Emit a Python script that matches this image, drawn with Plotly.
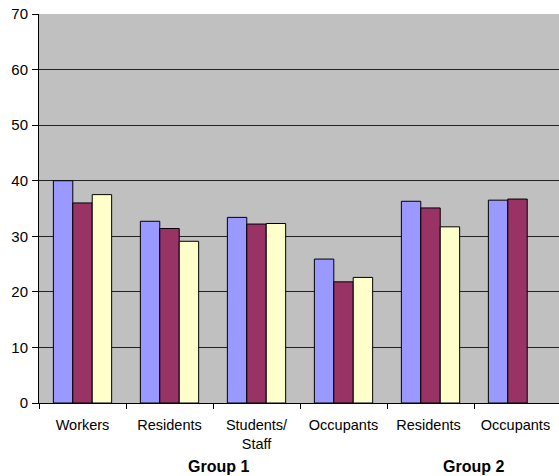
import plotly.graph_objects as go

categories = ["Workers", "Residents", "Students/<br>Staff", "Occupants", "Residents ", "Occupants "]
series_a = [40.0, 32.7, 33.4, 25.9, 36.3, 36.5]
series_b = [36.0, 31.4, 32.2, 21.8, 35.1, 36.7]
series_c = [37.5, 29.1, 32.3, 22.6, 31.7, None]
group_labels = ["Group 1", "Group 2"]
group_centers = [1.56, 4.49]

colors = ["#9999FF", "#993366", "#FFFFCC"]
font = "Liberation Sans, Arial, sans-serif"

fig = go.Figure()
for vals, c in zip([series_a, series_b, series_c], colors):
    fig.add_trace(go.Bar(x=categories, y=vals, marker=dict(color=c, line=dict(color="black", width=1)),
                         showlegend=False))

for lab, cx in zip(group_labels, group_centers):
    fig.add_annotation(x=cx, y=-0.162, xref="x", yref="paper", text="<b>%s</b>" % lab,
                       showarrow=False, font=dict(family=font, size=16, color="black"), yanchor="middle")

fig.update_layout(
    width=559, height=476,
    margin=dict(l=39, r=0, t=14, b=73),
    paper_bgcolor="white", plot_bgcolor="#C0C0C0",
    barmode="group", bargap=0.33, bargroupgap=0,
    font=dict(family=font, size=14, color="black"),
    xaxis=dict(type="category", range=[-0.5, 5.477], showline=True, linecolor="black", linewidth=1,
               ticks="outside", tickson="boundaries", ticklen=5, tickcolor="black",
               showgrid=False, tickfont=dict(size=14.5), ticklabelstandoff=9),
    yaxis=dict(range=[0, 70], dtick=10, showline=True, linecolor="black", linewidth=1,
               ticks="outside", ticklen=6, tickcolor="black", gridcolor="#222222", gridwidth=1,
               zeroline=False, tickfont=dict(size=15), ticklabelstandoff=1),
)

fig.write_html("out.html")
